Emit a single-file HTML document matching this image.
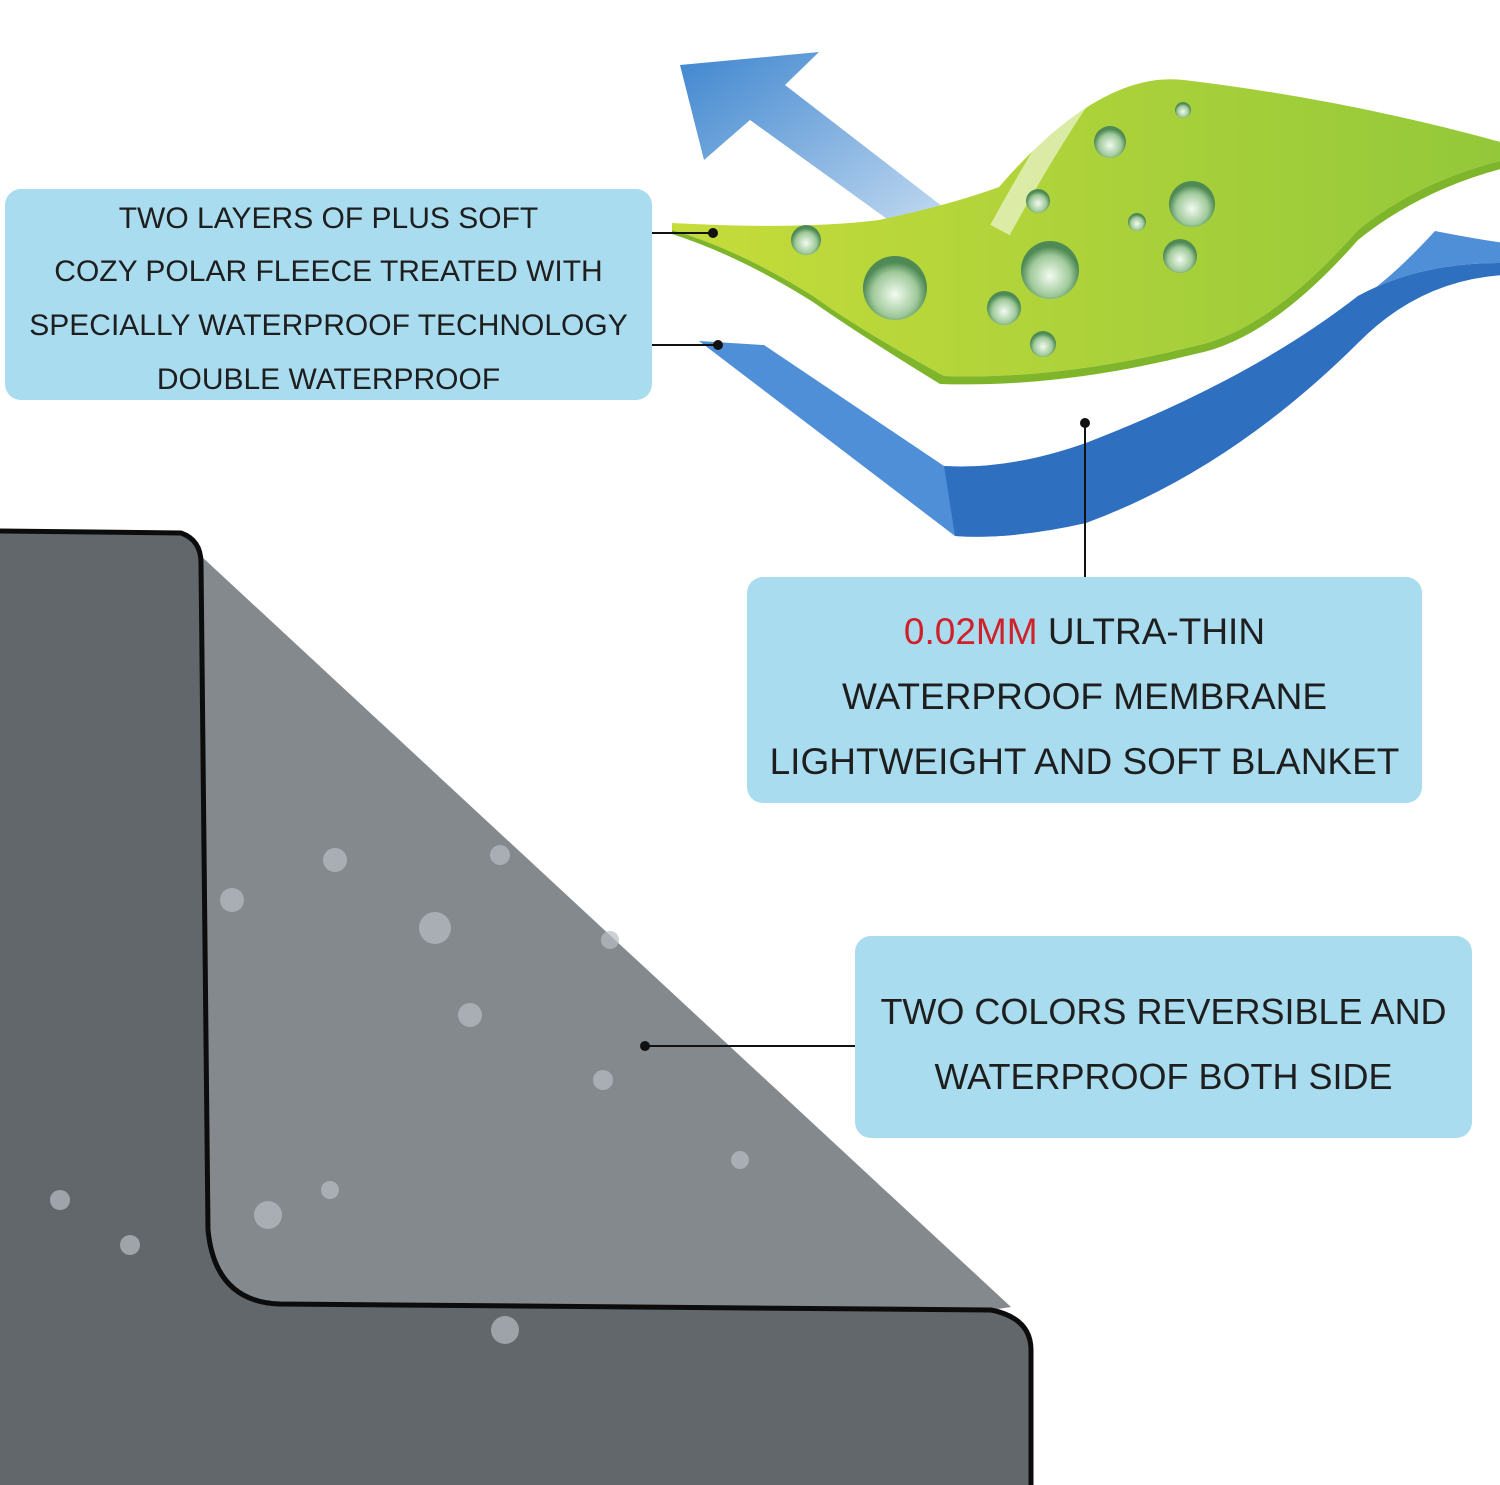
<!DOCTYPE html>
<html><head><meta charset="utf-8"><style>
html,body{margin:0;padding:0;background:#fff;}
body{width:1500px;height:1485px;position:relative;overflow:hidden;font-family:"Liberation Sans",sans-serif;}
.box{position:absolute;background:#a9dcef;border-radius:16px;color:#1e1e1e;text-align:center;}
.l{position:absolute;left:0;right:0;white-space:nowrap;}
</style></head><body>
<svg width="1500" height="1485" style="position:absolute;left:0;top:0">
<defs>
<linearGradient id="ar" x1="0" y1="0" x2="1" y2="1"><stop offset="0" stop-color="#3f86cf"/><stop offset="1" stop-color="#cfe2f4"/></linearGradient>
<linearGradient id="gr" x1="0" y1="0" x2="1" y2="0"><stop offset="0" stop-color="#c6dc3a"/><stop offset="1" stop-color="#93c83a"/></linearGradient>
<radialGradient id="dr" cx="0.5" cy="0.6" r="0.5"><stop offset="0" stop-color="#f2fbf0"/><stop offset="0.7" stop-color="#9fc99a"/><stop offset="1" stop-color="#4f8a55"/></radialGradient>
</defs>
<path d="M0,531 L181,533 Q201,540 201,563 L208,1230 Q215,1302 280,1304 L991,1310 Q1031,1318 1031,1350 L1031,1485 L0,1485 Z" fill="#62676c"/>
<path d="M201,556 L1011,1307 L991,1310 L280,1304 Q215,1302 208,1230 Z" fill="#84898e"/>
<path d="M0,531 L181,533 Q201,540 201,563 L208,1230 Q215,1302 280,1304 L991,1310 Q1031,1318 1031,1350 L1031,1485" fill="none" stroke="#0c0c0c" stroke-width="5"/>
<path d="M699,341 L764,345 L944,466 Q1010,470 1086,443 Q1250,380 1358,296 Q1420,262 1504,263 L1504,243 Q1470,238 1435,231 Q1390,280 1358,300 Q1230,420 1086,523 Q1010,540 955,536 Z" fill="#4f8fd8"/>
<path d="M944,466 Q1010,470 1086,443 Q1250,380 1358,296 Q1420,262 1504,263 L1504,275 Q1420,280 1358,343 Q1230,470 1086,523 Q1010,540 955,536 Z" fill="#2f6fc0"/>
<path d="M680,65 L819,52 L785,85 L960,220 L930,250 L750,120 L704,160 Z" fill="url(#ar)"/>
<path d="M672,223 Q800,230 879,220 Q950,205 999,187 Q1100,70 1184,80 Q1350,100 1504,143 L1504,160 Q1420,180 1358,230 Q1270,330 1195,346 Q1060,380 944,376 Q860,330 813,296 Q740,250 672,230 Z" fill="url(#gr)"/>
<path d="M672,230 Q740,250 813,296 Q860,330 944,376 Q1060,380 1195,346 Q1270,330 1358,230 Q1420,180 1504,160 L1504,168 Q1420,190 1358,240 Q1270,340 1195,354 Q1060,388 940,384 Q860,335 813,302 Q740,256 672,234 Z" fill="#7fb52b"/>
<path d="M1000,230 Q1060,120 1120,40" stroke="#ffffff" stroke-opacity="0.55" stroke-width="22" fill="none"/>
<g fill="url(#dr)">
<circle cx="895" cy="288" r="32"/><circle cx="1050" cy="270" r="29"/><circle cx="1192" cy="204" r="23"/>
<circle cx="1110" cy="142" r="16"/><circle cx="806" cy="240" r="15"/><circle cx="1004" cy="308" r="17"/>
<circle cx="1180" cy="256" r="17"/><circle cx="1038" cy="201" r="12"/><circle cx="1043" cy="344" r="13"/>
<circle cx="1137" cy="222" r="9"/><circle cx="1183" cy="110" r="8"/>
</g>
<g fill="#b8bec4" opacity="0.7">
<circle cx="435" cy="928" r="16"/><circle cx="335" cy="860" r="12"/><circle cx="232" cy="900" r="12"/><circle cx="470" cy="1015" r="12"/><circle cx="500" cy="855" r="10"/><circle cx="603" cy="1080" r="10"/><circle cx="268" cy="1215" r="14"/><circle cx="505" cy="1330" r="14"/><circle cx="130" cy="1245" r="10"/><circle cx="60" cy="1200" r="10"/><circle cx="610" cy="940" r="9"/><circle cx="740" cy="1160" r="9"/><circle cx="330" cy="1190" r="9"/>
</g>
<g stroke="#111" stroke-width="2"><line x1="652" y1="233" x2="713" y2="233"/><line x1="652" y1="345" x2="718" y2="345"/><line x1="1085" y1="422" x2="1085" y2="577"/><line x1="645" y1="1046" x2="856" y2="1046"/></g>
<g fill="#111"><circle cx="713" cy="233" r="5"/><circle cx="718" cy="345" r="5"/><circle cx="1085" cy="423" r="5"/><circle cx="645" cy="1046" r="5"/></g>
</svg>
<div class="box" style="left:5px;top:189px;width:647px;height:211px;font-size:30px;">
<div class="l" style="top:13px">TWO LAYERS OF PLUS SOFT</div>
<div class="l" style="top:66px">COZY POLAR FLEECE TREATED WITH</div>
<div class="l" style="top:120px">SPECIALLY WATERPROOF TECHNOLOGY</div>
<div class="l" style="top:174px">DOUBLE WATERPROOF</div>
</div>
<div class="box" style="left:747px;top:577px;width:675px;height:226px;font-size:37px;">
<div class="l" style="top:34px"><span style="color:#d0202a">0.02MM</span> ULTRA-THIN</div>
<div class="l" style="top:99px">WATERPROOF MEMBRANE</div>
<div class="l" style="top:164px">LIGHTWEIGHT AND SOFT BLANKET</div>
</div>
<div class="box" style="left:855px;top:936px;width:617px;height:202px;font-size:36px;">
<div class="l" style="top:55px">TWO COLORS REVERSIBLE AND</div>
<div class="l" style="top:120px">WATERPROOF BOTH SIDE</div>
</div>
</body></html>
